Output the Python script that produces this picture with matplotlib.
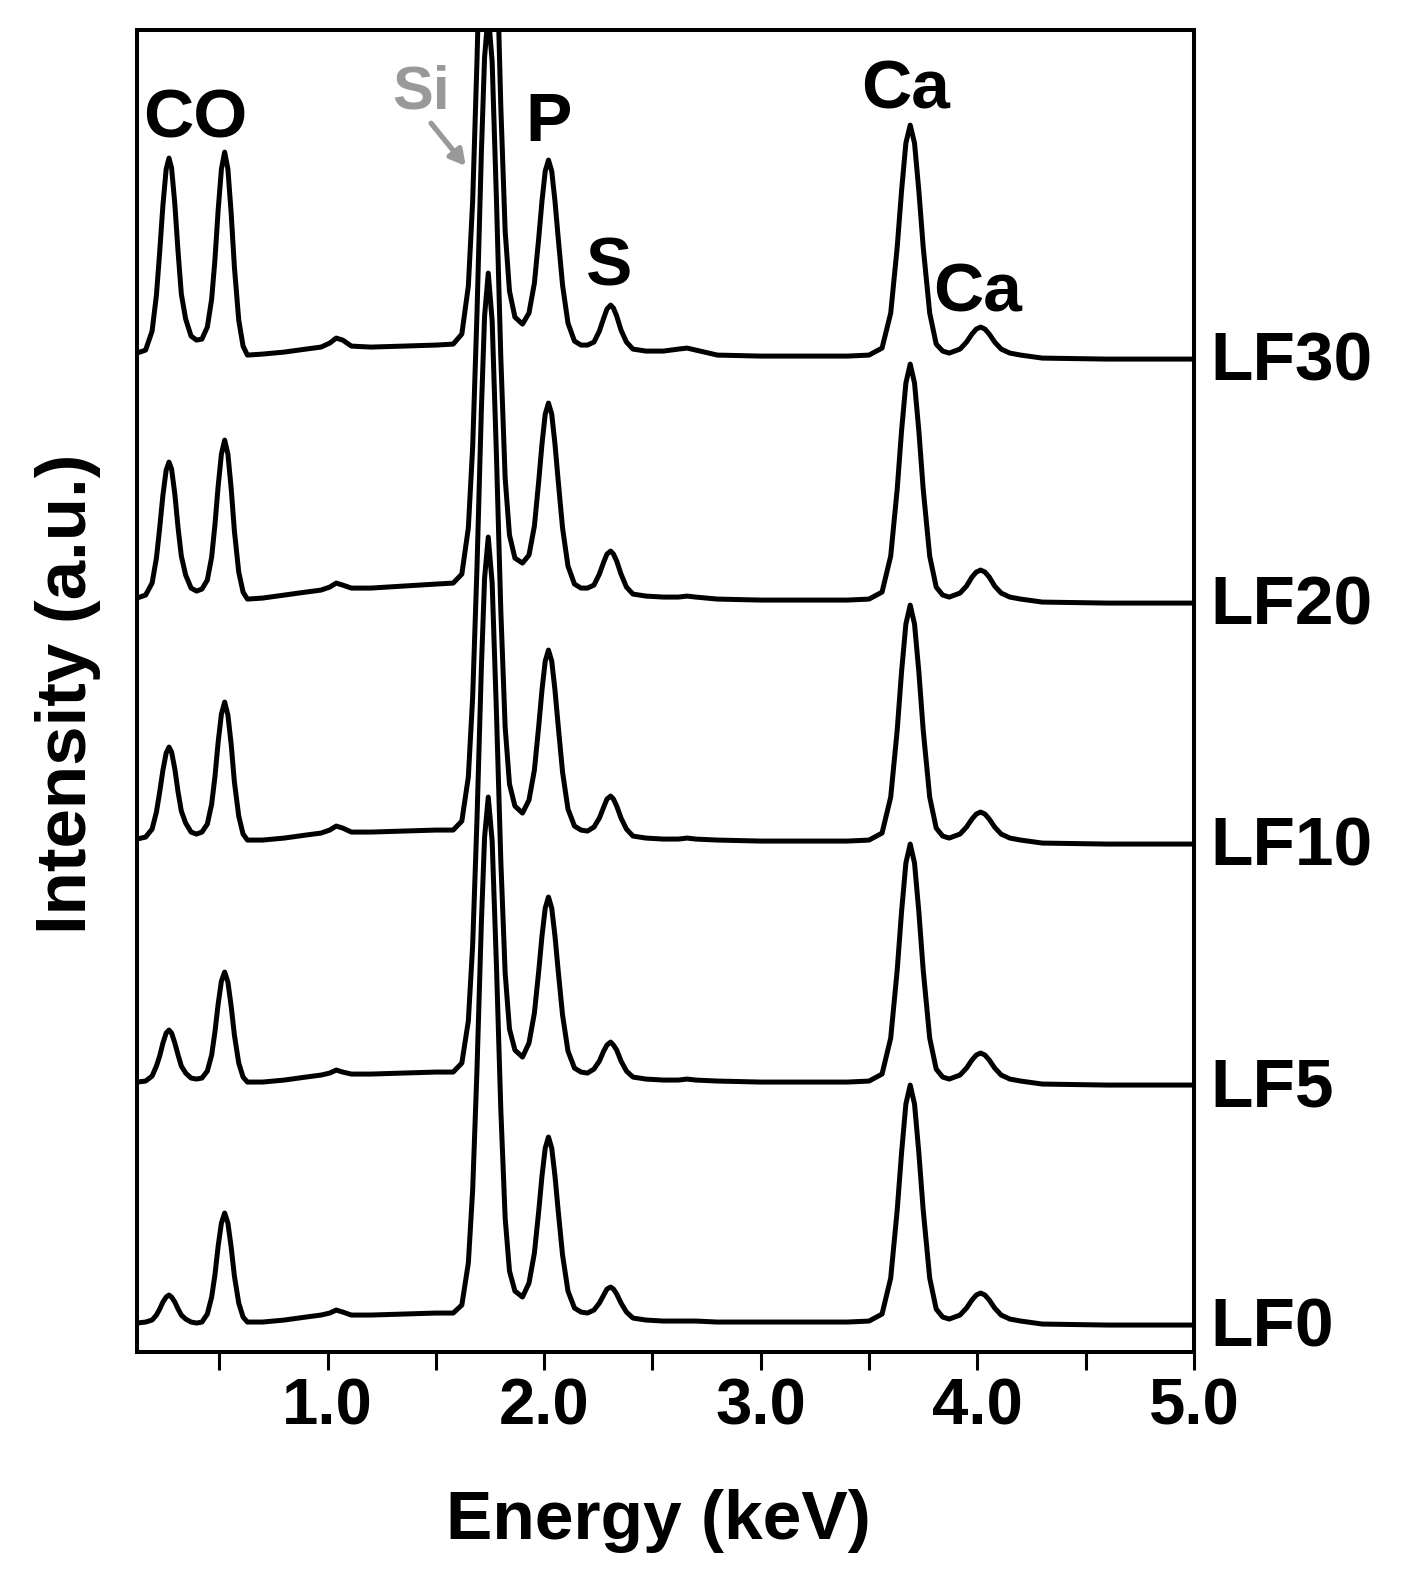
import matplotlib
matplotlib.use("Agg")
import matplotlib.pyplot as plt

# EDS spectra, intensities in arbitrary units above each trace's own baseline
energy = [0.12, 0.16, 0.19, 0.21, 0.225, 0.24, 0.255, 0.268, 0.28, 0.295, 0.31, 0.325, 0.345, 0.37, 0.395,
          0.42, 0.445, 0.465, 0.48, 0.495, 0.51, 0.525, 0.54, 0.555, 0.57, 0.59, 0.61, 0.63,
          0.70, 0.80, 0.90, 0.97, 1.01, 1.04, 1.07, 1.11, 1.20, 1.35, 1.50,
          1.58, 1.62, 1.65, 1.67, 1.69, 1.71, 1.725, 1.742, 1.76, 1.78, 1.80, 1.82, 1.84, 1.865, 1.90,
          1.93, 1.955, 1.975, 1.99, 2.005, 2.02, 2.035, 2.05, 2.065, 2.085, 2.11, 2.14, 2.17, 2.20,
          2.23, 2.255, 2.275, 2.29, 2.307, 2.32, 2.335, 2.355, 2.38, 2.41, 2.47,
          2.55, 2.62, 2.66, 2.70, 2.80, 3.00, 3.20, 3.40, 3.50,
          3.56, 3.60, 3.63, 3.65, 3.67, 3.69, 3.71, 3.73, 3.75, 3.78, 3.81, 3.84, 3.87,
          3.92, 3.95, 3.975, 3.995, 4.015, 4.035, 4.055, 4.08, 4.11, 4.15, 4.20,
          4.30, 4.60, 5.00]

lf30 = [6, 9, 28, 64, 107, 154, 190, 201, 191, 155, 107, 65, 40, 23, 19,
        20, 32, 60, 99, 149, 190, 207, 190, 146, 92, 39, 13, 4,
        5, 7, 10, 12, 16, 21, 19, 13, 12, 13, 14,
        15, 25, 73, 158, 299, 467, 569, 615, 563, 417, 252, 128, 68, 42, 35,
        46, 76, 121, 158, 188, 199, 188, 158, 121, 74, 36, 18, 14, 14,
        17, 28, 41, 50, 54, 51, 43, 29, 17, 10, 8,
        8, 10, 11, 9, 4, 3, 3, 3, 4,
        11, 46, 112, 168, 216, 234, 216, 168, 112, 46, 15, 8, 6,
        10, 17, 25, 30, 32, 30, 25, 17, 10, 6, 4,
        1, 0, 0]

lf20 = [5, 8, 20, 45, 75, 108, 133, 141, 134, 109, 75, 47, 28, 15, 12,
        14, 23, 46, 78, 117, 149, 163, 149, 115, 72, 31, 11, 4,
        5, 8, 11, 13, 16, 20, 18, 15, 15, 17, 19,
        20, 29, 75, 156, 290, 449, 546, 590, 541, 402, 245, 125, 68, 45, 40,
        48, 77, 122, 159, 189, 200, 189, 159, 122, 75, 37, 19, 15, 15,
        18, 29, 41, 49, 52, 49, 42, 29, 16, 9, 7,
        6, 6, 7, 6, 4, 3, 3, 3, 4,
        11, 47, 114, 172, 220, 239, 220, 172, 114, 47, 16, 8, 6,
        10, 17, 26, 31, 33, 31, 26, 17, 10, 6, 4,
        1, 0, 0]

lf10 = [5, 7, 15, 32, 52, 74, 91, 97, 92, 75, 52, 33, 21, 12, 10,
        12, 20, 40, 67, 102, 130, 142, 129, 100, 62, 28, 10, 4,
        4, 6, 9, 11, 14, 18, 16, 12, 12, 13, 14,
        14, 23, 67, 147, 277, 433, 528, 571, 523, 387, 233, 117, 60, 38, 31,
        44, 74, 118, 154, 183, 194, 183, 154, 118, 72, 35, 18, 14, 13,
        17, 26, 37, 45, 48, 45, 38, 26, 15, 8, 6,
        5, 5, 6, 5, 4, 3, 3, 3, 4,
        11, 47, 114, 172, 220, 239, 220, 172, 114, 47, 16, 8, 6,
        10, 17, 25, 30, 32, 30, 25, 17, 10, 6, 4,
        1, 0, 0]

lf5 = [3, 4, 9, 19, 29, 42, 52, 55, 52, 42, 30, 19, 12, 7, 6,
       7, 14, 30, 53, 81, 104, 113, 103, 79, 50, 22, 8, 3,
       3, 5, 8, 10, 12, 15, 13, 11, 11, 12, 13,
       13, 22, 64, 140, 266, 416, 507, 548, 502, 371, 224, 112, 56, 35, 28,
       42, 72, 114, 149, 177, 188, 177, 149, 114, 70, 34, 17, 13, 12,
       16, 24, 34, 40, 43, 40, 35, 24, 14, 8, 6,
       5, 5, 6, 5, 4, 3, 3, 3, 4,
       11, 47, 115, 173, 222, 241, 222, 173, 115, 47, 16, 8, 6,
       10, 17, 25, 30, 32, 30, 25, 17, 10, 6, 4,
       1, 0, 0]

lf0 = [2, 3, 5, 10, 16, 23, 28, 30, 28, 23, 16, 10, 6, 3, 2,
       3, 11, 28, 50, 79, 102, 112, 102, 78, 49, 22, 8, 3,
       3, 5, 8, 10, 12, 15, 13, 10, 10, 11, 12,
       12, 20, 62, 135, 256, 401, 488, 528, 484, 358, 215, 107, 54, 34, 28,
       42, 72, 114, 149, 177, 188, 177, 149, 114, 70, 34, 17, 13, 12,
       15, 22, 30, 36, 38, 36, 31, 22, 13, 7, 5,
       4, 4, 4, 4, 3, 3, 3, 3, 4,
       11, 47, 115, 172, 221, 240, 221, 172, 115, 47, 16, 8, 6,
       10, 17, 25, 30, 32, 30, 25, 17, 10, 6, 4,
       1, 0, 0]

names = ["LF0", "LF5", "LF10", "LF20", "LF30"]
spectra = [lf0, lf5, lf10, lf20, lf30]
offsets = [27, 267, 508, 749, 993]

peak_labels = ["CO", "P", "S", "Ca", "Ca"]
peak_label_x = [0.39, 2.02, 2.30, 3.667, 4.00]
peak_label_y = [1233, 1229, 1085, 1262, 1059]

fnt = "Liberation Sans"

fig = plt.figure(figsize=(14.03, 15.76), dpi=100)
ax = fig.add_axes([0.0976, 0.1421, 0.7534, 0.8388])

for name, sp, off in zip(names, spectra, offsets):
    ax.plot(energy, [v + off for v in sp], color="black", lw=3.6, solid_joinstyle="round")
    ax.text(1.016, off - 3, name, transform=ax.get_yaxis_transform(), ha="left", va="center",
            fontsize=50, fontweight="bold", family=fnt, clip_on=False)

for lab, x, y in zip(peak_labels, peak_label_x, peak_label_y):
    ax.text(x, y, lab, ha="center", va="center", fontsize=50, fontweight="bold", family=fnt)

ax.text(1.43, 1259, "Si", ha="center", va="center", fontsize=44, fontweight="bold",
        family=fnt, color="#999999")
ax.annotate("", xy=(1.646, 1184), xytext=(1.47, 1231),
            arrowprops=dict(arrowstyle="-|>,head_length=0.9,head_width=0.5", color="#999999", lw=3.8))

ax.set_xlim(0.12, 5.0)
ax.set_ylim(0, 1322)
ax.set_yticks([])
ax.set_xticks([1, 2, 3, 4, 5])
ax.set_xticklabels(["1.0", "2.0", "3.0", "4.0", "5.0"])
ax.set_xticks([0.5, 1.5, 2.5, 3.5, 4.5], minor=True)
ax.tick_params(axis="x", which="both", direction="out", length=13, width=2.2, pad=5)
for lbl in ax.get_xticklabels():
    lbl.set_fontsize(47)
    lbl.set_fontweight("bold")
    lbl.set_family(fnt)
for s in ax.spines.values():
    s.set_linewidth(2.9)

fig.text(0.469, 0.035, "Energy (keV)", ha="center", va="center", fontsize=50,
         fontweight="bold", family=fnt)
fig.text(0.0485, 0.560, "Intensity (a.u.)", ha="center", va="center", rotation=90,
         fontsize=51, fontweight="bold", family=fnt)

fig.savefig("out.png", dpi=100)
